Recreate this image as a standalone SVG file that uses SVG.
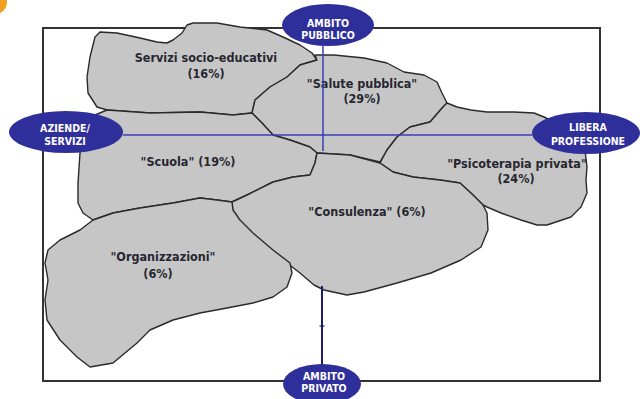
<svg xmlns="http://www.w3.org/2000/svg" width="644" height="399" viewBox="0 0 644 399">
<style>
.blob{fill:#c6c6c6;stroke:#2a2a2a;stroke-width:1.4;stroke-linejoin:round}
.lbl{font-family:"DejaVu Sans Condensed","DejaVu Sans",sans-serif;font-size:12.5px;font-weight:bold;fill:#262630;text-anchor:middle}
.ell{fill:#2f2f9c}
.elbl{font-family:"DejaVu Sans Condensed","DejaVu Sans",sans-serif;font-size:10.5px;font-weight:bold;fill:#fff;text-anchor:middle}
.axis{stroke:#3b3bb8;stroke-width:1.5;fill:none}
</style>
<rect width="644" height="399" fill="#fff"/>
<circle cx="-5" cy="2" r="12" fill="#f0a020"/>
<rect x="43" y="28" width="557" height="353" fill="none" stroke="#333" stroke-width="2"/>

<g id="servizi">
<path class="blob" d="M100,32 L117,33 L140,38 L157,42 L167,43 L173,40 L182,33 L187,25 L193,23 L217,23 L240,27 L267,30 L283,37 L300,45 L312,53 L317,60 L300,65 L287,77 L270,87 L255,100 L252,113 L233,115 L200,112 L150,113 L107,110 L97,107 L88,93 L87,77 L90,57 L95,37 Z"/>
<text class="lbl" x="206" y="62">Servizi socio-educativi</text>
<text class="lbl" x="206" y="78">(16%)</text>
</g>
<g id="salute">
<path class="blob" d="M317,60 L315,55 L334,55 L364,58 L387,63 L404,72 L424,75 L437,82 L442,93 L447,103 L443,107 L430,122 L410,127 L397,137 L387,150 L380,162 L350,155 L317,153 L310,147 L290,140 L273,135 L262,123 L252,113 L255,100 L270,87 L287,77 L300,65 Z"/>
<text class="lbl" x="362" y="88">"Salute pubblica"</text>
<text class="lbl" x="362" y="103">(29%)</text>
</g>
<g id="scuola">
<path class="blob" d="M107,110 L150,113 L200,112 L233,115 L252,113 L262,123 L273,135 L290,140 L310,147 L317,153 L315,163 L310,175 L293,177 L273,182 L247,195 L232,202 L217,200 L200,198 L173,203 L140,208 L113,213 L93,220 L83,213 L78,203 L78,183 L80,153 L84,130 L95,115 Z"/>
<text class="lbl" x="188" y="166">"Scuola" (19%)</text>
</g>
<g id="psicoterapia">
<path class="blob" d="M447,103 L457,107 L471,110 L487,112 L514,112 L534,113 L544,117 L570,130 L585,150 L587,167 L586,180 L587,193 L581,207 L571,217 L547,225 L537,225 L521,220 L501,213 L487,207 L483,205 L473,195 L460,183 L440,180 L413,177 L393,172 L380,163 L387,150 L397,137 L410,127 L430,122 L443,107 Z"/>
<text class="lbl" x="517" y="168">"Psicoterapia privata"</text>
<text class="lbl" x="516" y="183">(24%)</text>
</g>
<g id="consulenza">
<path class="blob" d="M317,153 L350,155 L380,163 L393,172 L413,177 L440,180 L460,183 L473,195 L483,205 L487,213 L488,230 L481,247 L461,260 L431,273 L397,283 L364,292 L347,295 L324,290 L314,285 L300,273 L287,263 L270,250 L253,240 L240,227 L233,213 L232,202 L247,195 L273,182 L293,177 L310,175 L315,163 Z"/>
<text class="lbl" x="367" y="216">"Consulenza" (6%)</text>
</g>
<g id="organizzazioni">
<path class="blob" d="M93,220 L113,213 L140,208 L173,203 L200,198 L217,200 L232,202 L233,210 L240,220 L253,233 L273,250 L290,263 L292,273 L287,287 L273,297 L253,303 L227,308 L200,313 L173,320 L150,330 L137,343 L113,363 L90,367 L77,357 L60,340 L47,320 L45,300 L48,280 L45,263 L48,250 L60,240 L80,230 Z"/>
<text class="lbl" x="163" y="261">"Organizzazioni"</text>
<text class="lbl" x="158" y="278">(6%)</text>
</g>

<g id="connectors">
<path class="axis" d="M123,135 L532,135"/>
<path class="axis" d="M323,46 L323,151"/>
<path d="M322,286 L322,364" stroke="#1c1c70" stroke-width="2" fill="none"/>
<path d="M319.5,326 L324.5,326" stroke="#1c1c70" stroke-width="1.2"/>
</g>

<g id="ambito-pubblico">
<ellipse class="ell" cx="328" cy="25" rx="46" ry="21"/>
<text class="elbl" x="328" y="27">AMBITO</text>
<text class="elbl" x="328" y="39">PUBBLICO</text>
</g>
<g id="aziende-servizi">
<ellipse class="ell" cx="66" cy="132" rx="57" ry="21"/>
<text class="elbl" x="65" y="132">AZIENDE/</text>
<text class="elbl" x="65" y="145">SERVIZI</text>
</g>
<g id="libera-professione">
<ellipse class="ell" cx="586" cy="133" rx="54" ry="21"/>
<text class="elbl" x="588" y="131">LIBERA</text>
<text class="elbl" x="588" y="145">PROFESSIONE</text>
</g>
<g id="ambito-privato">
<ellipse class="ell" cx="322" cy="384" rx="39" ry="20"/>
<text class="elbl" x="324" y="380">AMBITO</text>
<text class="elbl" x="324" y="392">PRIVATO</text>
</g>
</svg>
